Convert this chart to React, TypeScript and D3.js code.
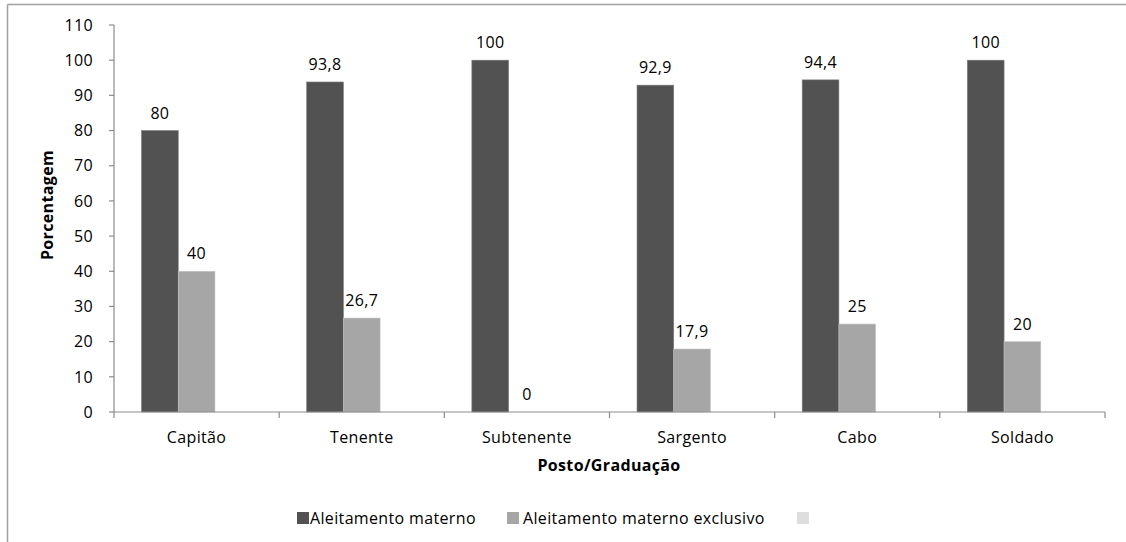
import React from "react";
import * as d3 from "d3";

const categories = ["Capitão", "Tenente", "Subtenente", "Sargento", "Cabo", "Soldado"];
const aleitamentoMaterno = [80, 93.8, 100, 92.9, 94.4, 100];
const aleitamentoExclusivo = [40, 26.7, 0, 17.9, 25, 20];
const seriesNames = ["Aleitamento materno", "Aleitamento materno exclusivo", ""];
const seriesColors = ["#525252", "#a6a6a6", "#dedede"];
const yTicks = [0, 10, 20, 30, 40, 50, 60, 70, 80, 90, 100, 110];

const W = 1126;
const H = 542;
const plot = { left: 114, right: 1105, top: 25, bottom: 412 };
const FONT = "'Open Sans', 'DejaVu Sans', sans-serif";
const LS = 0.35;

const fmt = (v: number) => String(v).replace(".", ",");

export default function App() {
  const x = d3
    .scaleBand<string>()
    .domain(categories)
    .range([plot.left, plot.right])
    .paddingInner(0)
    .paddingOuter(0);
  const y = d3.scaleLinear().domain([0, 110]).range([plot.bottom, plot.top]);

  const band = x.bandwidth();
  const barW = band / 4.5;
  const gap = (band - 3 * barW) / 2;

  const series = [aleitamentoMaterno, aleitamentoExclusivo];
  const axisColor = "#8c8c8c";

  const legendItems = [
    { name: seriesNames[0], sx: 297, tx: 310, color: seriesColors[0] },
    { name: seriesNames[1], sx: 507, tx: 523, color: seriesColors[1] },
    { name: seriesNames[2], sx: 797, tx: 811, color: seriesColors[2] },
  ];

  return (
    <svg
      width={W}
      height={H}
      style={{ position: "absolute", left: 0, top: 0, background: "#fff" }}
      fontFamily={FONT}
      letterSpacing={LS}
    >
      {/* chart frame */}
      <line x1={7.5} y1={4.5} x2={W} y2={4.5} stroke="#a0a0a0" strokeWidth={1.5} />
      <line x1={7.5} y1={4.5} x2={7.5} y2={H} stroke="#a0a0a0" strokeWidth={1.5} />

      {/* bars */}
      {series.map((vals, si) =>
        vals.map((v, i) => {
          const bx = (x(categories[i]) as number) + gap + si * barW;
          return (
            <rect
              key={`b-${si}-${i}`}
              x={bx}
              y={y(v)}
              width={barW}
              height={plot.bottom - y(v)}
              fill={seriesColors[si]}
              stroke={si === 0 ? "#7a7a7a" : "#c4c4c4"}
              strokeWidth={0.6}
            />
          );
        })
      )}

      {/* value labels */}
      {series.map((vals, si) =>
        vals.map((v, i) => {
          const bx = (x(categories[i]) as number) + gap + si * barW + barW / 2;
          return (
            <text
              key={`l-${si}-${i}`}
              x={bx}
              y={y(v) - 12}
              textAnchor="middle"
              fontSize={16}
              fill="#000"
            >
              {fmt(v)}
            </text>
          );
        })
      )}

      {/* y axis */}
      <line x1={plot.left} y1={plot.top} x2={plot.left} y2={plot.bottom} stroke={axisColor} strokeWidth={1.2} />
      {yTicks.map((t) => (
        <g key={`yt-${t}`}>
          <line x1={plot.left - 5} x2={plot.left} y1={y(t)} y2={y(t)} stroke={axisColor} strokeWidth={1.2} />
          <text
            x={93}
            y={y(t)}
            dy="0.36em"
            textAnchor="end"
            fontSize={16}
            fill="#000"
          >
            {t}
          </text>
        </g>
      ))}

      {/* x axis */}
      <line x1={plot.left} y1={plot.bottom} x2={plot.right} y2={plot.bottom} stroke={axisColor} strokeWidth={1.2} />
      {[...categories.map((c) => x(c) as number), plot.right].map((px, i) => (
        <line key={`xt-${i}`} x1={px} x2={px} y1={plot.bottom} y2={plot.bottom + 6} stroke={axisColor} strokeWidth={1.2} />
      ))}
      {categories.map((c) => (
        <text
          key={`xl-${c}`}
          x={(x(c) as number) + band / 2}
          y={443}
          textAnchor="middle"
          fontSize={16}
          fill="#000"
        >
          {c}
        </text>
      ))}

      {/* axis titles */}
      <text x={609} y={471} textAnchor="middle" fontSize={16} fontWeight="bold" fill="#000">
        Posto/Graduação
      </text>
      <text
        transform={`translate(53, 205) rotate(-90)`}
        textAnchor="middle"
        fontSize={16}
        fontWeight="bold"
        fill="#000"
      >
        Porcentagem
      </text>

      {/* legend */}
      {legendItems.map((it, i) => (
        <g key={`lg-${i}`}>
          <rect x={it.sx} y={512} width={12} height={12} fill={it.color} />
          {it.name && (
            <text x={it.tx} y={524} fontSize={16} fill="#000">
              {it.name}
            </text>
          )}
        </g>
      ))}
    </svg>
  );
}
